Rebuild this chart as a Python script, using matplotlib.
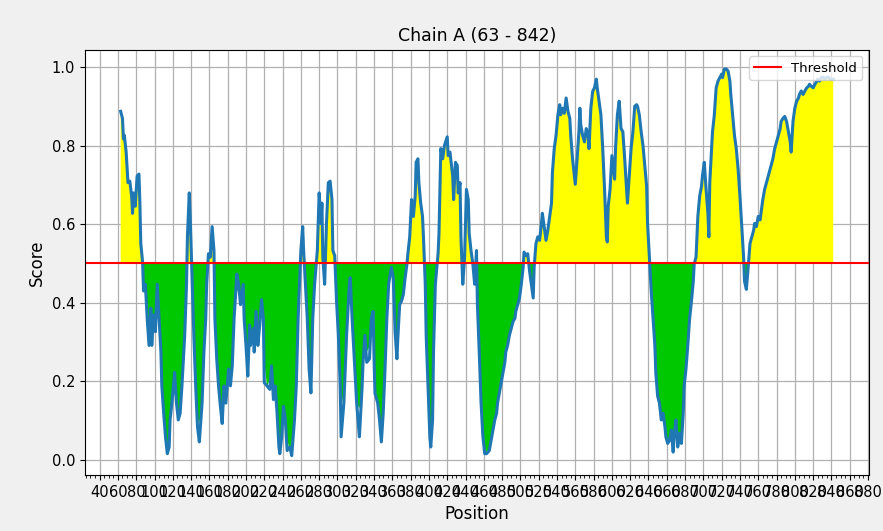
import matplotlib
matplotlib.use("Agg")
import matplotlib.pyplot as plt
from matplotlib.ticker import MultipleLocator
import pandas as pd

# residue positions and scores
positions = [
    63, 65, 66, 67, 69, 71, 73, 75, 76, 77, 79, 81, 83, 84, 85, 87, 88, 90, 92, 94,
    96, 97, 99, 101, 103, 105, 107, 108, 110, 112, 114, 116, 117, 119, 122, 124, 126, 128, 130, 133,
    135, 136, 138, 139, 141, 143, 145, 147, 149, 152, 154, 156, 157, 159, 161, 163, 165, 166, 168, 170,
    172, 174, 176, 178, 181, 183, 185, 187, 190, 192, 194, 197, 198, 200, 202, 204, 205, 208, 209, 211,
    213, 215, 217, 219, 220, 223, 226, 228, 230, 232, 234, 236, 237, 239, 241, 243, 245, 248, 250, 253,
    255, 257, 260, 262, 263, 265, 267, 269, 271, 273, 275, 278, 280, 282, 283, 284, 286, 288, 290, 292,
    294, 295, 297, 299, 301, 303, 304, 307, 310, 313, 314, 316, 319, 321, 324, 327, 328, 330, 332, 335,
    337, 339, 340, 341, 344, 346, 348, 350, 352, 354, 356, 357, 359, 361, 363, 365, 366, 368, 370, 372,
    374, 376, 377, 379, 381, 383, 385, 386, 388, 389, 391, 393, 394, 396, 397, 399, 401, 402, 404, 405,
    407, 410, 411, 413, 415, 417, 420, 421, 423, 426, 427, 429, 431, 432, 434, 435, 437, 439, 440, 441,
    443, 444, 446, 448, 450, 452, 453, 455, 457, 459, 461, 463, 466, 468, 470, 472, 474, 475, 477, 479,
    481, 483, 484, 486, 488, 490, 492, 494, 495, 497, 499, 501, 503, 504, 506, 508, 510, 512, 514, 515,
    517, 519, 521, 523, 524, 526, 528, 530, 532, 534, 535, 537, 539, 541, 543, 544, 546, 548, 550, 552,
    554, 555, 557, 559, 560, 562, 564, 565, 566, 568, 570, 572, 574, 575, 577, 579, 581, 583, 584, 586,
    588, 590, 592, 594, 595, 596, 598, 600, 603, 604, 606, 608, 610, 612, 614, 616, 617, 619, 621, 623,
    625, 627, 628, 630, 632, 634, 636, 638, 639, 641, 643, 645, 647, 648, 650, 652, 654, 656, 658, 659,
    661, 663, 665, 667, 668, 670, 672, 674, 676, 678, 679, 681, 683, 685, 687, 689, 690, 692, 694, 696,
    698, 699, 701, 703, 705, 706, 707, 709, 710, 712, 714, 716, 718, 720, 721, 723, 725, 727, 729, 730,
    732, 734, 736, 738, 740, 742, 744, 745, 747, 749, 751, 753, 755, 756, 758, 760, 762, 764, 765, 767,
    769, 771, 773, 775, 776, 778, 780, 782, 784, 785, 787, 789, 791, 793, 795, 796, 798, 800, 802, 804,
    805, 807, 809, 811, 813, 815, 816, 818, 820, 822, 824, 825, 827, 829, 831, 833, 835, 837, 838, 842,
]
scores = [
    0.888, 0.870, 0.818, 0.827, 0.784, 0.706, 0.710, 0.672, 0.628, 0.680, 0.646, 0.723, 0.728, 0.654, 0.551, 0.503, 0.430, 0.447, 0.360, 0.291,
    0.386, 0.291, 0.369, 0.326, 0.447, 0.360, 0.274, 0.188, 0.119, 0.058, 0.015, 0.032, 0.101, 0.144, 0.222, 0.144, 0.101, 0.118, 0.188, 0.317,
    0.447, 0.568, 0.680, 0.620, 0.464, 0.317, 0.188, 0.084, 0.045, 0.144, 0.274, 0.360, 0.447, 0.525, 0.516, 0.594, 0.533, 0.360, 0.257, 0.188,
    0.136, 0.092, 0.188, 0.144, 0.231, 0.188, 0.239, 0.360, 0.473, 0.447, 0.395, 0.447, 0.360, 0.291, 0.213, 0.343, 0.291, 0.334, 0.274, 0.378,
    0.291, 0.343, 0.408, 0.360, 0.196, 0.188, 0.179, 0.239, 0.153, 0.188, 0.118, 0.032, 0.015, 0.058, 0.136, 0.101, 0.023, 0.032, 0.010, 0.101,
    0.188, 0.360, 0.533, 0.594, 0.533, 0.447, 0.360, 0.231, 0.170, 0.360, 0.447, 0.533, 0.680, 0.602, 0.654, 0.516, 0.447, 0.602, 0.706, 0.710,
    0.663, 0.533, 0.520, 0.404, 0.317, 0.188, 0.058, 0.144, 0.317, 0.447, 0.464, 0.360, 0.231, 0.144, 0.058, 0.188, 0.248, 0.317, 0.248, 0.257,
    0.360, 0.378, 0.257, 0.170, 0.144, 0.101, 0.045, 0.118, 0.231, 0.360, 0.447, 0.464, 0.490, 0.464, 0.326, 0.257, 0.309, 0.395, 0.404, 0.421,
    0.464, 0.499, 0.525, 0.568, 0.663, 0.620, 0.672, 0.758, 0.767, 0.706, 0.654, 0.620, 0.568, 0.447, 0.317, 0.188, 0.058, 0.032, 0.101, 0.274,
    0.447, 0.525, 0.577, 0.793, 0.767, 0.801, 0.823, 0.775, 0.784, 0.723, 0.663, 0.758, 0.750, 0.680, 0.706, 0.568, 0.447, 0.516, 0.602, 0.689,
    0.663, 0.577, 0.533, 0.499, 0.447, 0.533, 0.395, 0.274, 0.144, 0.058, 0.015, 0.015, 0.023, 0.049, 0.075, 0.101, 0.118, 0.144, 0.170, 0.196,
    0.222, 0.248, 0.274, 0.291, 0.317, 0.334, 0.352, 0.360, 0.378, 0.395, 0.412, 0.447, 0.490, 0.529, 0.520, 0.525, 0.481, 0.447, 0.412, 0.490,
    0.551, 0.568, 0.559, 0.602, 0.628, 0.594, 0.559, 0.585, 0.620, 0.654, 0.732, 0.793, 0.827, 0.879, 0.905, 0.879, 0.896, 0.883, 0.922, 0.888,
    0.870, 0.827, 0.767, 0.723, 0.702, 0.767, 0.836, 0.896, 0.853, 0.827, 0.810, 0.844, 0.827, 0.793, 0.896, 0.939, 0.948, 0.970, 0.948, 0.914,
    0.879, 0.793, 0.689, 0.568, 0.555, 0.646, 0.689, 0.775, 0.715, 0.793, 0.879, 0.914, 0.844, 0.836, 0.767, 0.689, 0.654, 0.723, 0.793, 0.836,
    0.901, 0.905, 0.901, 0.879, 0.836, 0.801, 0.749, 0.697, 0.602, 0.516, 0.430, 0.360, 0.291, 0.222, 0.162, 0.144, 0.101, 0.118, 0.084, 0.058,
    0.041, 0.049, 0.075, 0.019, 0.058, 0.101, 0.032, 0.067, 0.041, 0.118, 0.188, 0.231, 0.291, 0.360, 0.404, 0.455, 0.499, 0.516, 0.620, 0.672,
    0.697, 0.723, 0.758, 0.689, 0.628, 0.568, 0.706, 0.793, 0.836, 0.879, 0.948, 0.965, 0.974, 0.983, 0.974, 0.996, 0.996, 0.991, 0.965, 0.931,
    0.879, 0.827, 0.793, 0.741, 0.672, 0.594, 0.516, 0.455, 0.434, 0.490, 0.551, 0.568, 0.585, 0.602, 0.594, 0.620, 0.611, 0.646, 0.663, 0.689,
    0.706, 0.723, 0.741, 0.758, 0.767, 0.793, 0.810, 0.827, 0.844, 0.862, 0.870, 0.875, 0.862, 0.836, 0.810, 0.784, 0.862, 0.896, 0.914, 0.922,
    0.931, 0.940, 0.931, 0.940, 0.948, 0.952, 0.957, 0.952, 0.948, 0.957, 0.965, 0.970, 0.965, 0.974, 0.975, 0.970, 0.975, 0.975, 0.970, 0.970,
]
threshold = 0.5
chain = "A"

df = pd.DataFrame({"pos": positions, "score": scores})
# lightly smoothed profile used for the coloured areas
df["smooth"] = df["score"].rolling(window=3, center=True, min_periods=1).mean()

fig = plt.figure(figsize=(8.83, 5.31), dpi=100, facecolor="#f0f0f0")
ax = fig.add_axes([0.0963, 0.1055, 0.8877, 0.8010])

ax.fill_between(df["pos"], threshold, df["smooth"], where=df["smooth"] >= threshold,
                interpolate=True, color="#ffff00", linewidth=0)
ax.fill_between(df["pos"], threshold, df["smooth"], where=df["smooth"] < threshold,
                interpolate=True, color="#00c800", linewidth=0)
ax.plot(df["pos"], df["score"], color="#1f77b4", linewidth=2.2)
ax.axhline(threshold, color="red", linewidth=1.5, label="Threshold")

ax.xaxis.set_major_locator(MultipleLocator(20))
ax.xaxis.set_minor_locator(MultipleLocator(5))
ax.set_yticks([0.0, 0.2, 0.4, 0.6, 0.8, 1.0])
ax.tick_params(axis="both", which="major", labelsize=10.5)
ax.grid(True, which="major", color="#b0b0b0", linewidth=0.9)
ax.set_axisbelow(True)

ax.set_title(f"Chain {chain} ({positions[0]} - {positions[-1]})", fontsize=12.5)
ax.set_xlabel("Position", fontsize=12)
ax.set_ylabel("Score", fontsize=12)
ax.legend(loc="upper right", fontsize=9.5)

fig.savefig("out.png", dpi=100, facecolor=fig.get_facecolor())
